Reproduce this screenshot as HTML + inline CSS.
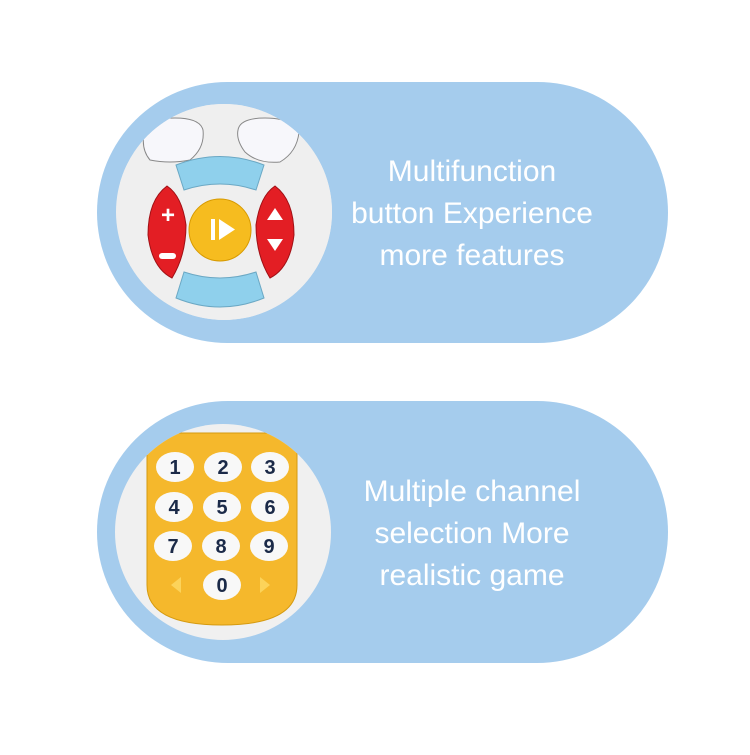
<!DOCTYPE html>
<html><head><meta charset="utf-8"><style>
body{margin:0;background:#fff;width:750px;height:750px;overflow:hidden}
text{font-family:"Liberation Sans",sans-serif}
</style></head><body>
<svg width="750" height="750" viewBox="0 0 750 750">
<defs>
<clipPath id="c1"><circle cx="224" cy="212" r="108"/></clipPath>
<clipPath id="c2"><circle cx="223" cy="532" r="108"/></clipPath>
</defs>
<rect x="97" y="82" width="571" height="261" rx="130.5" fill="#a5cced"/>
<rect x="97" y="401" width="571" height="262" rx="131" fill="#a5cced"/>

<!-- top remote -->
<circle cx="224" cy="212" r="108" fill="#eeeeee"/>
<g clip-path="url(#c1)">
<rect x="120" y="95" width="215" height="240" fill="#efefef"/>
<path d="M145 130 Q150 118 175 118 Q200 118 203 130 Q205 148 190 160 Q170 164 150 160 Q140 148 145 130Z" fill="#f7f7fb" stroke="#888" stroke-width="1"/>
<path d="M238 130 Q240 118 265 118 Q292 118 299 132 Q297 152 280 162 Q258 164 245 152 Q236 140 238 130Z" fill="#f7f7fb" stroke="#888" stroke-width="1"/>
<path d="M176 165 Q220 148 264 165 L256 190 Q220 178 184 190Z" fill="#8fd0ec" stroke="#6ba8c4"/>
<path d="M184 272 Q220 284 256 272 L264 298 Q220 316 176 298Z" fill="#8fd0ec" stroke="#6ba8c4"/>
<path d="M167 186 Q182 196 186 225 Q186 255 172 278 Q152 268 148 235 Q148 200 167 186Z" fill="#e31e24" stroke="#a01015"/>
<path d="M275 186 Q260 196 256 225 Q256 255 270 278 Q290 268 294 235 Q294 200 275 186Z" fill="#e31e24" stroke="#a01015"/>
<text x="168" y="223" font-size="24" fill="#fff" text-anchor="middle" font-weight="bold">+</text>
<rect x="159" y="253" width="17" height="6" rx="3" fill="#fff"/>
<path d="M275 208 L283 220 L267 220Z" fill="#fff"/>
<path d="M275 251 L283 239 L267 239Z" fill="#fff"/>
<circle cx="220" cy="230" r="31" fill="#f6bc1f" stroke="#d79a00"/>
<rect x="211" y="219" width="4" height="21" fill="#fff"/>
<path d="M219 219 L235 229.5 L219 240Z" fill="#fff"/>
</g>

<!-- bottom remote -->
<circle cx="223" cy="532" r="108" fill="#f0f0f0"/>
<g clip-path="url(#c2)">
<path d="M147 433 L297 433 L297 585 Q297 625 222 625 Q147 625 147 585Z" fill="#f5b82c" stroke="#d59a10"/>
<g font-size="20" font-weight="bold" fill="#1b2a48" text-anchor="middle">
<ellipse cx="175" cy="467" rx="19" ry="15" fill="#f8f8f8"/><text x="175" y="474">1</text>
<ellipse cx="223" cy="467" rx="19" ry="15" fill="#f8f8f8"/><text x="223" y="474">2</text>
<ellipse cx="270" cy="467" rx="19" ry="15" fill="#f8f8f8"/><text x="270" y="474">3</text>
<ellipse cx="174" cy="507" rx="19" ry="15" fill="#f8f8f8"/><text x="174" y="514">4</text>
<ellipse cx="222" cy="507" rx="19" ry="15" fill="#f8f8f8"/><text x="222" y="514">5</text>
<ellipse cx="270" cy="507" rx="19" ry="15" fill="#f8f8f8"/><text x="270" y="514">6</text>
<ellipse cx="173" cy="546" rx="19" ry="15" fill="#f8f8f8"/><text x="173" y="553">7</text>
<ellipse cx="221" cy="546" rx="19" ry="15" fill="#f8f8f8"/><text x="221" y="553">8</text>
<ellipse cx="269" cy="546" rx="19" ry="15" fill="#f8f8f8"/><text x="269" y="553">9</text>
<ellipse cx="222" cy="585" rx="19" ry="15" fill="#f8f8f8"/><text x="222" y="592">0</text>
</g>
<path d="M181 577 L171 585 L181 593Z" fill="#fcd35a"/>
<path d="M260 577 L270 585 L260 593Z" fill="#fcd35a"/>
</g>

<g fill="#fff" font-size="30" text-anchor="middle">
<text x="472" y="181">Multifunction</text>
<text x="472" y="223">button Experience</text>
<text x="472" y="265">more features</text>
<text x="472" y="501">Multiple channel</text>
<text x="472" y="543">selection More</text>
<text x="472" y="585">realistic game</text>
</g>
</svg>
</body></html>
